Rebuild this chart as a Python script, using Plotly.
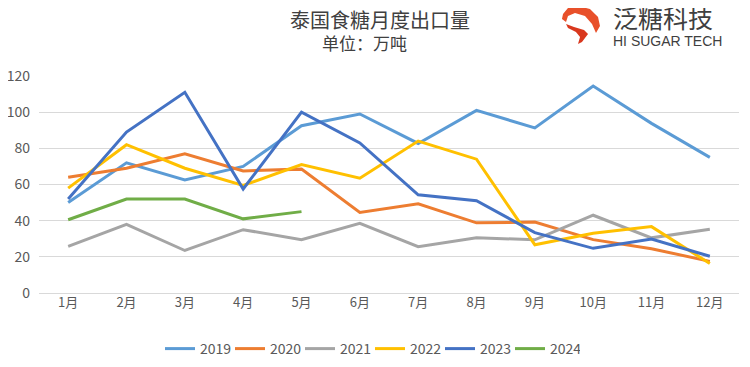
import plotly.graph_objects as go

months = ["1月", "2月", "3月", "4月", "5月", "6月", "7月", "8月", "9月", "10月", "11月", "12月"]
s2019 = [50, 72, 62.5, 70, 92.5, 99, 82.7, 101, 91.3, 114.5, 93.8, 75]
s2020 = [64, 69, 77, 67.5, 68.5, 44.5, 49.3, 38.8, 39.2, 29.5, 24.5, 17.5]
s2021 = [25.8, 38, 23.5, 35, 29.5, 38.5, 25.6, 30.6, 29.4, 43, 30.5, 35.2]
s2022 = [58, 82, 69, 59.5, 71, 63.5, 84, 74, 26.7, 33, 36.7, 16.3]
s2023 = [52, 89, 111, 57.5, 100, 83, 54.3, 51, 33.4, 24.7, 29.8, 20.3]
s2024 = [40.5, 52, 52, 41, 45]

series = [
    ("2019", s2019, "#5B9BD5"),
    ("2020", s2020, "#ED7D31"),
    ("2021", s2021, "#A5A5A5"),
    ("2022", s2022, "#FFC000"),
    ("2023", s2023, "#4472C4"),
    ("2024", s2024, "#70AD47"),
]

fig = go.Figure()
for name, vals, color in series:
    fig.add_trace(go.Scatter(
        x=months[:len(vals)], y=vals, name=name, mode="lines",
        line=dict(color=color, width=3),
    ))

# page body adds an 8px offset; design in reference pixel coords
OFF = 8
W, H = 750 - OFF, 367 - OFF
X0, X1, Y0, Y1 = 39, 739, 76, 293  # plot area in reference pixels
L, R, T, B = X0 - OFF, 750 - X1, Y0 - OFF, 367 - Y1
PW, PH = X1 - X0, Y1 - Y0

def px(x):
    return (x - X0) / PW

def py(y):
    return (Y1 - y) / PH

logo_text = ("<span style='font-size:25px;font-family:DejaVu Sans, Noto Sans CJK SC'>泛糖科技</span>"
             "<br>HI SUGAR TECH")

fig.update_layout(
    width=W, height=H,
    margin=dict(l=L, r=R, t=T, b=B, autoexpand=False),
    plot_bgcolor="white", paper_bgcolor="white",
    font=dict(family="Noto Sans CJK SC, Noto Sans, sans-serif", size=13, color="#595959"),
    showlegend=True,
    legend=dict(orientation="h", x=px(370), xanchor="center", y=py(349), yanchor="middle",
                font=dict(size=14, color="#595959"), itemwidth=30, tracegroupgap=0,
                entrywidth=25, entrywidthmode="pixels"),
    xaxis=dict(type="category", showgrid=False, showline=False, ticks="", automargin=False,
               tickfont=dict(size=13, color="#595959"), range=[-0.5, 11.5]),
    yaxis=dict(range=[0, 120], dtick=20, showgrid=True, gridcolor="#D9D9D9", gridwidth=1,
               zeroline=True, zerolinecolor="#D9D9D9", zerolinewidth=1, automargin=False,
               tickfont=dict(size=14, color="#595959"), ticks="", ticklabelstandoff=8),
    annotations=[
        dict(text="泰国食糖月度出口量", x=px(380), y=py(8), xref="paper", yref="paper",
             showarrow=False, font=dict(size=20, color="#404040",
                                        family="DejaVu Serif, Noto Sans CJK SC, serif"),
             xanchor="center", yanchor="top", borderpad=0),
        dict(text="单位：万吨", x=px(364), y=py(33), xref="paper", yref="paper",
             showarrow=False, font=dict(size=17, color="#404040",
                                        family="DejaVu Serif, Noto Sans CJK SC, serif"),
             xanchor="center", yanchor="top", borderpad=0),
        dict(text=logo_text, x=px(612), y=py(50), xref="paper", yref="paper",
             showarrow=False, align="left",
             font=dict(size=14, color="#3F3F3F", family="Arial, Liberation Sans, sans-serif"),
             xanchor="left", yanchor="bottom", borderpad=0),
    ],
)

# logo icon (decorative)
def pth(points):
    s = ""
    for i, (a, b) in enumerate(points):
        s += ("M" if i == 0 else "L") + f"{px(a):.4f},{py(b):.4f} "
    return s + "Z"

upper = [(563, 14), (568, 8), (578, 6), (590, 9), (598, 17), (600, 26), (596, 33),
         (592, 24), (585, 16), (575, 13), (568, 16), (566, 22), (562, 19)]
lower = [(566, 24), (574, 27), (584, 30), (588, 34), (582, 42), (578, 44), (580, 37), (576, 32), (568, 28)]
fig.add_shape(type="path", path=pth(upper), xref="paper", yref="paper",
              fillcolor="#E8502A", line=dict(width=0))
fig.add_shape(type="path", path=pth(lower), xref="paper", yref="paper",
              fillcolor="#D9381E", line=dict(width=0))

fig.write_html("out.html")
